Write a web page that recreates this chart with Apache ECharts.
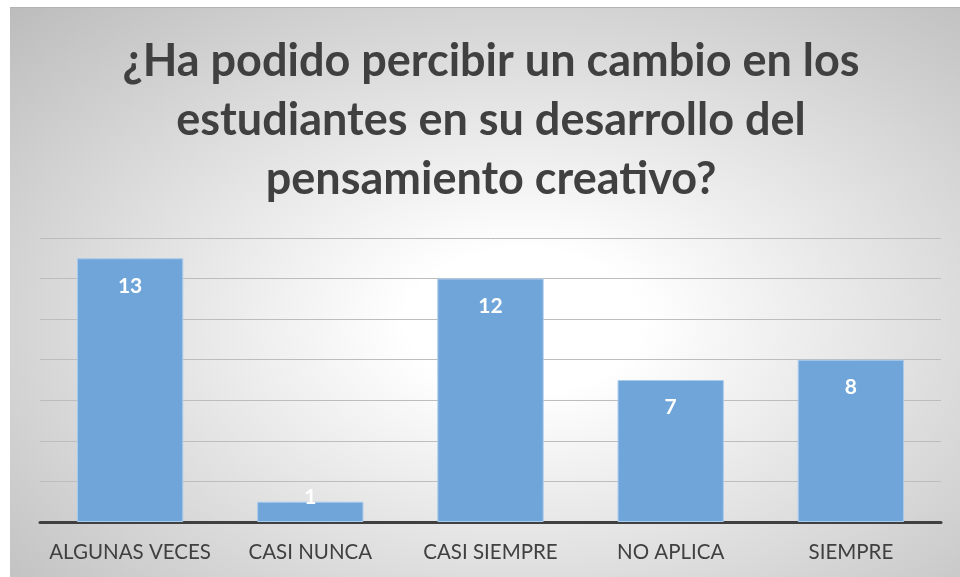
<!DOCTYPE html>
<html>
<head>
<meta charset="utf-8">
<script src="https://cdn.jsdelivr.net/npm/echarts@6/dist/echarts.min.js"></script>
<style>
  html, body { margin: 0; padding: 0; background: #fff; }
  #frame {
    position: absolute; left: 10px; top: 7px; width: 950px; height: 570px;
    border-top: 1px solid #b4b4b4;
    background: radial-gradient(ellipse farthest-corner at 54% 55%, #ffffff 0%, #ffffff 16%, #bcbcbc 100%);
  }
  #chart { width: 950px; height: 569px; }
</style>
</head>
<body>
<div id="frame"><div id="chart"></div></div>
<script>
// respuestas por categoria
const categories = ['ALGUNAS VECES', 'CASI NUNCA', 'CASI SIEMPRE', 'NO APLICA', 'SIEMPRE']
const values = [13, 1, 12, 7, 8]
const titleLines = ['¿Ha podido percibir un cambio en los', 'estudiantes en su desarrollo del', 'pensamiento creativo?']

const chart = echarts.init(document.getElementById('chart'))
chart.setOption({
  backgroundColor: 'transparent',
  animation: false,
  title: {
    text: titleLines.join('\n'),
    left: 476,
    top: 19,
    textAlign: 'center',
    textStyle: {
      fontFamily: 'Lato',
      fontWeight: 'bold',
      fontSize: 45,
      lineHeight: 59,
      color: '#404040'
    }
  },
  grid: {
    left: 30,
    right: 19,
    top: 230,
    bottom: 55
  },
  xAxis: {
    type: 'category',
    data: categories,
    axisTick: { show: false },
    axisLine: { lineStyle: { color: '#404040', width: 3 } },
    axisLabel: {
      interval: 0,
      fontFamily: 'Lato',
      fontSize: 20.5,
      color: '#404040',
      margin: 20
    }
  },
  yAxis: {
    type: 'value',
    min: 0,
    max: 14,
    interval: 2,
    axisLabel: { show: false },
    axisLine: { show: false },
    axisTick: { show: false },
    splitLine: { lineStyle: { color: '#bdbdbd', width: 1 } }
  },
  series: [
    {
      type: 'bar',
      barWidth: '59%',
      data: values.map(function(v) {
        if (v < 3) {
          return { value: v, label: { position: 'insideBottom', distance: 14 } }
        }
        return v
      }),
      itemStyle: {
        color: '#6fa5d8',
        borderColor: '#a9cbec',
        borderWidth: 1
      },
      label: {
        show: true,
        position: 'insideTop',
        distance: 17,
        color: '#ffffff',
        fontFamily: 'Lato',
        fontWeight: 'bold',
        fontSize: 21
      }
    }
  ]
})
</script>
</body>
</html>
